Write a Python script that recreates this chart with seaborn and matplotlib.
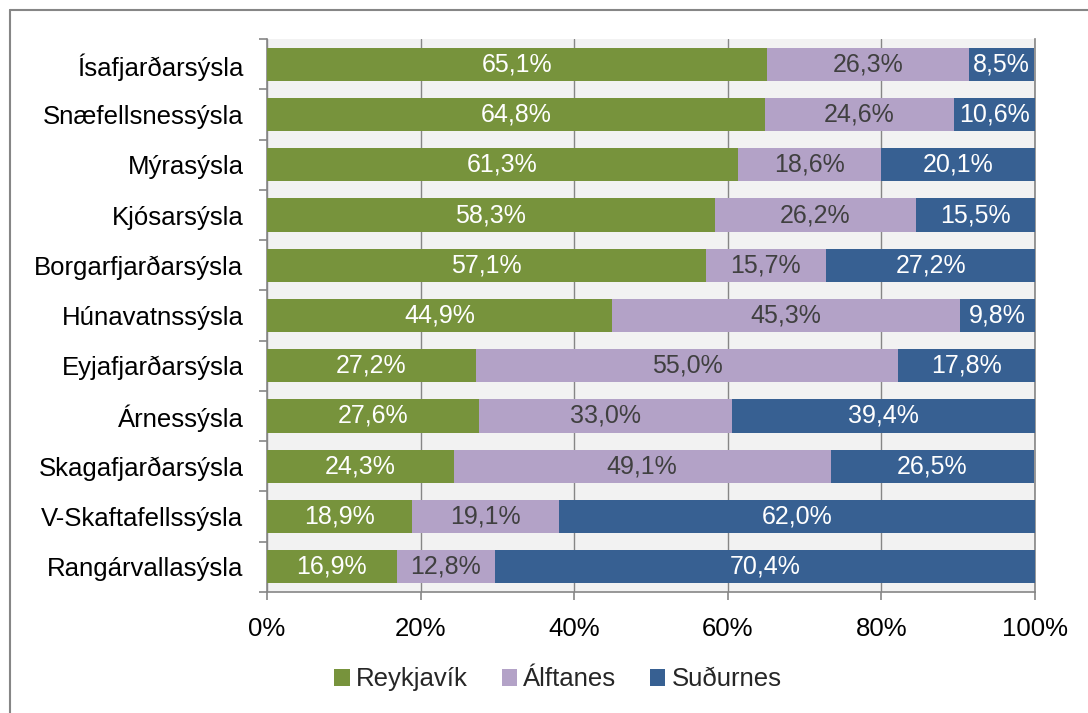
import matplotlib
matplotlib.use("Agg")
import matplotlib.pyplot as plt
import seaborn as sns
import pandas as pd
from matplotlib.patches import Patch
from matplotlib.lines import Line2D
from matplotlib.ticker import PercentFormatter

# ====== data ======
syslur = ["Ísafjarðarsýsla", "Snæfellsnessýsla", "Mýrasýsla", "Kjósarsýsla",
          "Borgarfjarðarsýsla", "Húnavatnssýsla", "Eyjafjarðarsýsla", "Árnessýsla",
          "Skagafjarðarsýsla", "V-Skaftafellssýsla", "Rangárvallasýsla"]
reykjavik = [65.1, 64.8, 61.3, 58.3, 57.1, 44.9, 27.2, 27.6, 24.3, 18.9, 16.9]
alftanes = [26.3, 24.6, 18.6, 26.2, 15.7, 45.3, 55.0, 33.0, 49.1, 19.1, 12.8]
sudurnes = [8.5, 10.6, 20.1, 15.5, 27.2, 9.8, 17.8, 39.4, 26.5, 62.0, 70.4]
series = ["Reykjavík", "Álftanes", "Suðurnes"]

colors = ["#77933C", "#B3A2C7", "#376092"]
text_colors = ["white", "#404040", "white"]

df = pd.DataFrame({"sysla": syslur, "R": reykjavik, "A": alftanes, "S": sudurnes})
df["cum_RA"] = df["R"] + df["A"]
df["cum_all"] = df["cum_RA"] + df["S"]

sns.set_style("white")
plt.rcParams["font.family"] = ["Liberation Sans", "DejaVu Sans"]

fig = plt.figure(figsize=(10.88, 7.13), dpi=100)
ax = fig.add_axes([0.2454, 0.170, 0.7059, 0.775])
ax.set_facecolor("#F2F2F2")

# stacked bars drawn as cumulative totals, back to front
for col, c in zip(["cum_all", "cum_RA", "R"], colors[::-1]):
    sns.barplot(data=df, x=col, y="sysla", color=c, width=0.66, linewidth=0,
                saturation=1, ax=ax, orient="h", zorder=3)

# value labels
for i in range(len(df)):
    left = 0
    for vals, tc in zip([reykjavik, alftanes, sudurnes], text_colors):
        v = vals[i]
        ax.text(left + v / 2, i, f"{v:.1f}%".replace(".", ","), ha="center",
                va="center", color=tc, fontsize=18, zorder=5)
        left += v

ax.set_xlim(0, 100)
ax.set_ylim(len(df) - 0.5, -0.5)
ax.set_xticks([0, 20, 40, 60, 80, 100])
ax.xaxis.set_major_formatter(PercentFormatter(decimals=0))
ax.set_xlabel("")
ax.set_ylabel("")
ax.grid(axis="x", color="#868686", linewidth=1, zorder=0)
ax.set_yticks([i + 0.5 for i in range(-1, len(df))], minor=True)
ax.tick_params(axis="y", which="major", left=True, labelsize=18.5,
               colors="black", length=0, pad=17)
ax.tick_params(axis="y", which="minor", left=True, length=6, color="#868686",
               direction="out", width=1.2)
ax.tick_params(axis="x", which="major", bottom=True, labelsize=18.5, length=6,
               color="#868686", labelcolor="black", direction="out", width=1.2,
               pad=12)

ax.spines["top"].set_visible(False)
for side in ["left", "right", "bottom"]:
    ax.spines[side].set_color("#868686")
    ax.spines[side].set_linewidth(1.2)

handles = [Patch(facecolor=c, edgecolor="none") for c in colors]
fig.legend(handles, series, loc="center", bbox_to_anchor=(0.513, 0.047), ncol=3,
           frameon=False, fontsize=18.5, handlelength=0.6, handleheight=0.6,
           handletextpad=0.25, columnspacing=1.3)

# outer chart border (top and left visible)
fig.add_artist(Line2D([10 / 1088, 1.0], [1 - 10 / 713, 1 - 10 / 713],
                      transform=fig.transFigure, color="#868686", linewidth=1.5))
fig.add_artist(Line2D([10 / 1088, 10 / 1088], [0, 1 - 10 / 713],
                      transform=fig.transFigure, color="#868686", linewidth=1.5))

fig.savefig("out.png", dpi=100)
